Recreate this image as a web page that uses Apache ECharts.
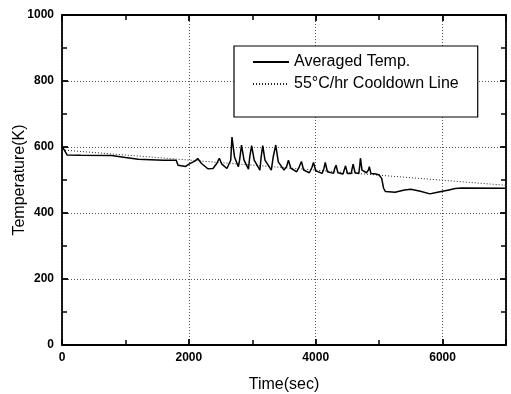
<!DOCTYPE html>
<html>
<head>
<meta charset="utf-8">
<script src="https://cdn.jsdelivr.net/npm/echarts@6/dist/echarts.min.js"></script>
<style>html,body{margin:0;padding:0;background:#fff;}#c{width:511px;height:394px;}</style>
</head>
<body>
<div id="c"></div>
<script>
// Averaged temperature: [time (s), temperature (K)]
const avgTime = [0, 40, 80, 300, 780, 1000, 1200, 1600, 1800, 1830, 1950, 2000, 2100, 2140, 2200, 2300, 2380, 2440, 2480, 2520, 2600, 2660, 2680, 2720, 2780, 2800, 2830, 2870, 2940, 2960, 2990, 3030, 3120, 3140, 3165, 3200, 3300, 3330, 3370, 3410, 3500, 3540, 3570, 3610, 3700, 3740, 3775, 3810, 3900, 3940, 3965, 4000, 4100, 4130, 4150, 4185, 4280, 4300, 4320, 4350, 4430, 4450, 4470, 4500, 4560, 4575, 4590, 4620, 4680, 4695, 4705, 4730, 4800, 4830, 4845, 4870, 4950, 5000, 5040, 5070, 5100, 5250, 5400, 5500, 5650, 5800, 5900, 6000, 6100, 6200, 6300, 7000];
const avgTemp = [600, 590, 576, 575, 574, 568, 563, 560, 560, 545, 541, 548, 558, 565, 550, 534, 535, 550, 566, 548, 535, 560, 630, 570, 540, 560, 606, 560, 533, 570, 604, 560, 530, 570, 604, 560, 530, 570, 606, 555, 530, 540, 560, 535, 525, 540, 556, 530, 522, 538, 553, 528, 520, 535, 553, 525, 520, 535, 545, 522, 518, 530, 543, 520, 520, 535, 548, 522, 520, 545, 566, 530, 522, 530, 540, 520, 518, 515, 505, 475, 465, 463, 470, 472, 466, 458, 462, 466, 470, 474, 476, 475];
// 55 °C/hr cooldown line
const coolTime = [0, 7000];
const coolTemp = [591, 484];
// Axis ticks
const xTicks = [0, 2000, 4000, 6000];
const yTicks = [0, 200, 400, 600, 800, 1000];
const seriesNames = ['Averaged Temp.', '55°C/hr Cooldown Line'];

const avgData = avgTime.map((t, i) => [t, avgTemp[i]]);
const coolData = coolTime.map((t, i) => [t, coolTemp[i]]);

const FONT = "'Liberation Sans', Arial, sans-serif";
const black = '#000';

function xAx(pos, labels) {
  return {
    type: 'value', position: pos, min: 0, max: 7000, interval: 2000,
    axisLine: { show: true, onZero: false, lineStyle: { color: black, width: 1.8 } },
    axisTick: { show: true, inside: true, length: 6, lineStyle: { color: black, width: 1.8 } },
    minorTick: { show: true, splitNumber: 2, length: 5, lineStyle: { color: black, width: 1.5 } },
    splitLine: { show: labels, lineStyle: { color: '#555', type: [1, 2], width: 1 } },
    axisLabel: { show: labels, showMaxLabel: false, margin: 7, color: black, fontFamily: FONT, fontWeight: 'bold', fontSize: 12,
      formatter: v => (xTicks.indexOf(v) >= 0 ? String(v) : '') },
    name: labels ? 'Time(sec)' : '', nameLocation: 'middle', nameGap: 32, nameMoveOverlap: false,
    nameTextStyle: { color: black, fontFamily: FONT, fontSize: 16 }
  };
}
function yAx(pos, labels) {
  return {
    type: 'value', position: pos, min: 0, max: 1000, interval: 200,
    axisLine: { show: true, onZero: false, lineStyle: { color: black, width: 1.8 } },
    axisTick: { show: true, inside: true, length: 6, lineStyle: { color: black, width: 1.8 } },
    minorTick: { show: true, splitNumber: 2, length: 5, lineStyle: { color: black, width: 1.5 } },
    splitLine: { show: labels, lineStyle: { color: '#555', type: [1, 2], width: 1 } },
    axisLabel: { show: labels, margin: 8, color: black, fontFamily: FONT, fontWeight: 'bold', fontSize: 12,
      formatter: v => (yTicks.indexOf(v) >= 0 ? String(v) : '') },
    name: labels ? 'Temperature(K)' : '', nameLocation: 'middle', nameGap: 34, nameMoveOverlap: false,
    nameTextStyle: { color: black, fontFamily: FONT, fontSize: 16 }
  };
}

const chart = echarts.init(document.getElementById('c'), null, { renderer: 'canvas' });
chart.setOption({
  animation: false,
  backgroundColor: '#fff',
  grid: { left: 62, right: 5, top: 15, bottom: 49, containLabel: false, outerBoundsMode: 'none' },
  xAxis: [xAx('bottom', true), xAx('top', false)],
  yAxis: [yAx('left', true), yAx('right', false)],
  legend: {
    orient: 'vertical', left: 234, top: 46,
    padding: [8, 19, 25, 18], itemGap: 6, itemWidth: 36, itemHeight: 16,
    backgroundColor: '#fff', borderColor: black, borderWidth: 1.2, borderRadius: 0,
    itemStyle: { opacity: 0 },
    textStyle: { color: black, fontFamily: FONT, fontSize: 16 },
    data: seriesNames
  },
  series: [
    { name: seriesNames[0], type: 'line', data: avgData, showSymbol: false, symbol: 'none',
      lineStyle: { color: black, width: 1.5 }, itemStyle: { color: black }, z: 3 },
    { name: seriesNames[1], type: 'line', data: coolData, showSymbol: false, symbol: 'none',
      lineStyle: { color: '#222', width: 1, type: [1, 2] }, itemStyle: { color: '#222' }, z: 2 }
  ]
});
</script>
</body>
</html>
